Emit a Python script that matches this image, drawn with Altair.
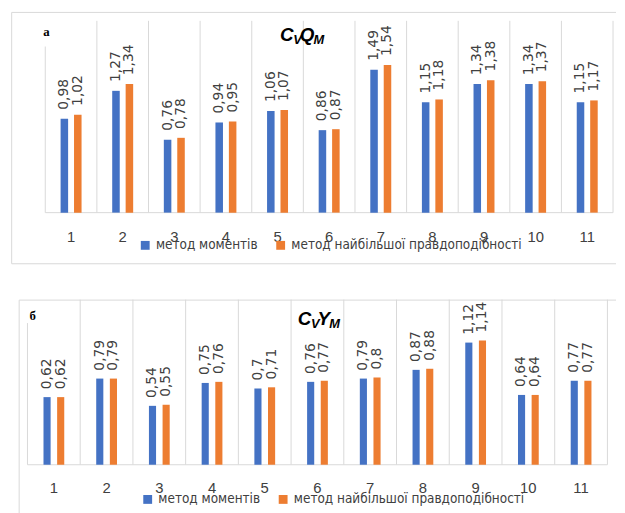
import altair as alt
import pandas as pd

cats = [str(i) for i in range(1, 12)]
series = ["метод моментів", "метод найбільшої правдоподібності"]
colors = ["#4472C4", "#ED7D31"]

q_moments = [0.98, 1.27, 0.76, 0.94, 1.06, 0.86, 1.49, 1.15, 1.34, 1.34, 1.15]
q_mle = [1.02, 1.34, 0.78, 0.95, 1.07, 0.87, 1.54, 1.18, 1.38, 1.37, 1.17]
y_moments = [0.62, 0.79, 0.54, 0.75, 0.70, 0.76, 0.79, 0.87, 1.12, 0.64, 0.77]
y_mle = [0.62, 0.79, 0.55, 0.76, 0.71, 0.77, 0.80, 0.88, 1.14, 0.64, 0.77]

GRID = "#d9d9d9"
TXT = "#404040"
W = 615


def long_df(a, b):
    rows = []
    for c, va, vb in zip(cats, a, b):
        rows.append({"cat": c, "series": series[0], "value": va,
                     "label": f"{va:g}".replace(".", ",")})
        rows.append({"cat": c, "series": series[1], "value": vb,
                     "label": f"{vb:g}".replace(".", ",")})
    return pd.DataFrame(rows)


one = pd.DataFrame({"k": [0]})


def hline(x1, x2, y):
    return alt.Chart(one).mark_rule(color=GRID, strokeWidth=1).encode(
        x=alt.value(x1), x2=alt.value(x2), y=alt.value(y))


def vline(x, y1, y2):
    return alt.Chart(one).mark_rule(color=GRID, strokeWidth=1).encode(
        x=alt.value(x), y=alt.value(y1), y2=alt.value(y2))


def glyph(ch, x, y, size):
    return alt.Chart(one).mark_text(
        text=ch, align="left", baseline="alphabetic", fontSize=size,
        font="Liberation Sans", fontWeight="bold", fontStyle="italic",
        color="#000000").encode(x=alt.value(x), y=alt.value(y))


def panel(df, H, border, x_range, y_base, y_top, y_max, off_range, off_pad,
          lab_y, leg_x, leg_y, glyphs, letter, letter_pos, left_top, dx):
    xs = alt.Scale(domain=cats, range=x_range, paddingInner=0, paddingOuter=0)
    ys = alt.Scale(domain=[0, y_max], range=[y_base, y_top], nice=False, zero=True)
    offs = alt.Scale(domain=series, range=off_range, paddingInner=off_pad, paddingOuter=0)

    layers = []
    bx, by1, by2 = border
    layers.append(hline(bx, W, by1))
    layers.append(vline(bx, by1, by2))
    if by2 < H:
        layers.append(hline(bx, W, by2))

    cat_df = pd.DataFrame({"cat": cats})
    grid_a = alt.Chart(pd.DataFrame({"cat": cats[1:]})).mark_rule(color=GRID).encode(
        x=alt.X("cat:N", bandPosition=0, scale=xs, axis=None),
        y=alt.value(y_top), y2=alt.value(y_base))
    grid_b = alt.Chart(pd.DataFrame({"cat": cats[-1:]})).mark_rule(color=GRID).encode(
        x=alt.X("cat:N", bandPosition=1, axis=None),
        y=alt.value(y_top), y2=alt.value(y_base))
    grid_l = alt.Chart(pd.DataFrame({"cat": cats[:1]})).mark_rule(color=GRID).encode(
        x=alt.X("cat:N", bandPosition=0, axis=None),
        y=alt.value(left_top), y2=alt.value(y_base))
    layers += [grid_a, grid_b, grid_l]
    layers.append(hline(x_range[0], x_range[1], y_base))

    bars = alt.Chart(df).mark_bar().encode(
        x=alt.X("cat:N", axis=None),
        xOffset=alt.XOffset("series:N", scale=offs),
        y=alt.Y("value:Q", scale=ys, axis=None),
        color=alt.Color("series:N", scale=alt.Scale(domain=series, range=colors),
                        legend=alt.Legend(orient="none", legendX=leg_x, legendY=leg_y,
                                          direction="horizontal", title=None,
                                          symbolType="square", symbolSize=80,
                                          symbolStrokeWidth=0, symbolOpacity=1,
                                          labelFont="DejaVu Sans Condensed, sans-serif",
                                          labelFontSize=13.6, labelColor=TXT, labelLimit=1000,
                                          labelOffset=4, columnPadding=16, padding=0)),
    )
    vals = alt.Chart(df).mark_text(angle=270, align="left", baseline="middle", dx=dx,
                                   font="DejaVu Sans", fontSize=14, color=TXT).encode(
        x=alt.X("cat:N", axis=None),
        xOffset=alt.XOffset("series:N"),
        y=alt.Y("value:Q", axis=None),
        text="label:N")
    labs = alt.Chart(cat_df).mark_text(font="Liberation Sans", fontSize=15, color=TXT,
                                       baseline="middle").encode(
        x=alt.X("cat:N", axis=None), y=alt.value(lab_y), text="cat:N")
    layers += [labs, bars, vals]
    for g in glyphs:
        layers.append(glyph(*g))
    layers.append(alt.Chart(one).mark_text(text=letter, font="Liberation Serif",
                                           fontWeight="bold", fontSize=13,
                                           color="#000000", baseline="middle").encode(
        x=alt.value(letter_pos[0]), y=alt.value(letter_pos[1])))
    return alt.layer(*layers).properties(width=W, height=H)


top = panel(long_df(q_moments, q_mle), 290, (3.7, 0.5, 254.7),
            [37.7, 612], 203, 9, 2.0, [15.5, 36.7], 0.44,
            228, 132, 229,
            [("C", 275, 29, 19), ("V", 288.5, 32.5, 13), ("Q", 295, 29, 19), ("M", 309, 32, 13)],
            "а", (39, 20), 35, 9)

bottom = panel(long_df(y_moments, y_mle), 213, (11.3, 0.5, 400),
               [19.7, 606.3], 167, 0, 1.514, [16.2, 37.2], 0.478,
               191, 134.5, 195,
               [("C", 293, 25.5, 19), ("V", 306.5, 29, 13), ("Y", 313, 25.5, 19), ("M", 325, 28.5, 13)],
               "б", (25, 17), 23.7, 8)

chart = alt.vconcat(top, bottom, spacing=0).resolve_scale(
    x="independent", y="independent", color="independent", xOffset="independent"
).configure_view(stroke=None).properties(padding=0)

chart.save("out.html", embed_options={"renderer": "svg", "actions": False})
